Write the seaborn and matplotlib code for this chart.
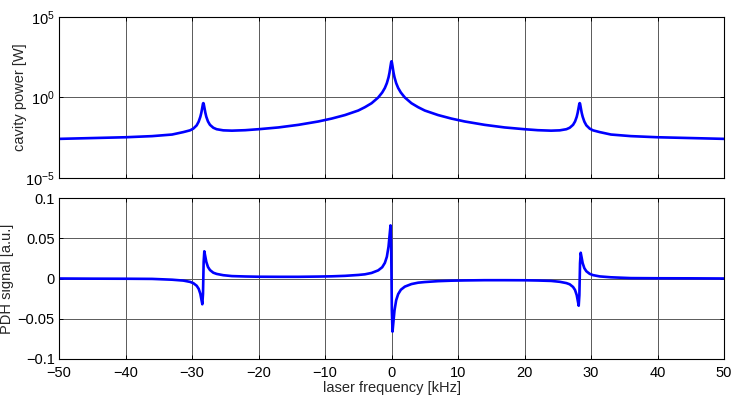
import numpy as np
import pandas as pd
import matplotlib
matplotlib.use("Agg")
import matplotlib.pyplot as plt
import seaborn as sns

# laser detuning [kHz]
freq = [-50, -45, -40, -36, -33, -31.3, -30.3, -29.8, -29.3, -29.0, -28.75, -28.6,
        -28.45, -28.35, -28.3, -28.25, -28.15, -28.0, -27.85, -27.6, -27.3, -26.8,
        -26.3, -25.3, -24, -22, -20, -17, -14, -11, -9, -7, -5, -4, -3, -2, -1.4,
        -1.0, -0.7, -0.45, -0.3, -0.15, -0.05, 0,
        0.05, 0.15, 0.3, 0.45, 0.7, 1.0, 1.4, 2, 3, 4, 5, 7, 9, 11, 14, 17, 20, 22,
        24, 25.3, 26.3, 26.8, 27.3, 27.6, 27.85, 28.0, 28.15, 28.25, 28.3, 28.35,
        28.45, 28.6, 28.75, 29.0, 29.3, 29.8, 30.3, 31.3, 33, 36, 40, 45, 50]

# circulating power [W]
power = [2.69e-3, 3.02e-3, 3.39e-3, 3.98e-3, 5.0e-3, 7.1e-3, 9.1e-3, 1.17e-2, 1.86e-2,
         3.16e-2, 6.3e-2, 0.112, 0.245, 0.417, 0.447, 0.417, 0.251, 0.115, 0.063,
         0.0324, 0.020, 0.0132, 0.0107, 0.0091, 0.0087, 0.0093, 0.0107, 0.0138,
         0.020, 0.0324, 0.049, 0.081, 0.155, 0.25, 0.44, 1.0, 2.04, 3.9, 7.8, 17.8,
         35.5, 89, 158, 178,
         158, 89, 35.5, 17.8, 7.8, 3.9, 2.04, 1.0, 0.44, 0.25, 0.155, 0.081, 0.049,
         0.0324, 0.020, 0.0138, 0.0107, 0.0093, 0.0087, 0.0091, 0.0107, 0.0132,
         0.020, 0.0324, 0.063, 0.115, 0.251, 0.417, 0.447, 0.417, 0.245, 0.112,
         6.3e-2, 3.16e-2, 1.86e-2, 1.17e-2, 9.1e-3, 7.1e-3, 5.0e-3, 3.98e-3,
         3.39e-3, 3.02e-3, 2.69e-3]

# PDH error signal [a.u.]
pdh = [0.0, -0.0002, -0.0003, -0.0005, -0.0015, -0.0026, -0.0042, -0.0058, -0.009,
       -0.0128, -0.019, -0.0256, -0.032, -0.019, 0.0008, 0.0206, 0.0338, 0.0272,
       0.0206, 0.0143, 0.0105, 0.0072, 0.0057, 0.0041, 0.003, 0.0025, 0.0022,
       0.0021, 0.0021, 0.0024, 0.0027, 0.0033, 0.0044, 0.0052, 0.0069, 0.0101,
       0.014, 0.0194, 0.027, 0.0396, 0.0528, 0.066, 0.0396, 0.0,
       -0.0396, -0.066, -0.0528, -0.0396, -0.027, -0.0194, -0.014, -0.0101,
       -0.0069, -0.0052, -0.0044, -0.0033, -0.0027, -0.0024, -0.0021, -0.0021,
       -0.0022, -0.0025, -0.003, -0.0041, -0.0057, -0.0072, -0.0105, -0.0143,
       -0.0206, -0.0272, -0.0338, -0.0206, -0.0008, 0.019, 0.032, 0.0256, 0.019,
       0.0128, 0.009, 0.0058, 0.0042, 0.0026, 0.0015, 0.0005, 0.0003, 0.0002, 0.0]

xticks = [-50, -40, -30, -20, -10, 0, 10, 20, 30, 40, 50]
pdh_ticks = [-0.1, -0.05, 0, 0.05, 0.1]
pdh_labels = ["\u22120.1", "\u22120.05", "0", "0.05", "0.1"]

df = pd.DataFrame({"freq": freq, "power": power, "pdh": pdh})

sns.set_style("ticks")
plt.rcParams["font.family"] = ["Liberation Sans", "DejaVu Sans"]
plt.rcParams["font.size"] = 10.5
plt.rcParams["xtick.direction"] = "in"
plt.rcParams["ytick.direction"] = "in"

fig = plt.figure(figsize=(7.36, 3.98), dpi=100)
ax1 = fig.add_axes([0.0802, 0.5528, 0.9035, 0.4045])
ax2 = fig.add_axes([0.0802, 0.0980, 0.9035, 0.4045])

sns.lineplot(data=df, x="freq", y="power", ax=ax1, color="blue", lw=1.9,
             estimator=None, sort=False)
ax1.set_yscale("log")
ax1.set_ylim(1e-5, 1e5)
ax1.set_yticks([1e-5, 1, 1e5])
ax1.minorticks_off()
ax1.set_xlim(-50, 50)
ax1.set_xticks(xticks)
ax1.set_xticklabels([])
ax1.set_xlabel("")
ax1.set_ylabel("cavity power [W]", labelpad=-1)

sns.lineplot(data=df, x="freq", y="pdh", ax=ax2, color="blue", lw=1.9,
             estimator=None, sort=False)
ax2.set_xlim(-50, 50)
ax2.set_ylim(-0.1, 0.1)
ax2.set_xticks(xticks)
ax2.set_yticks(pdh_ticks)
ax2.set_yticklabels(pdh_labels)
ax2.set_xlabel("laser frequency [kHz]", labelpad=1)
ax2.set_ylabel("PDH signal [a.u.]", labelpad=3)

for ax in (ax1, ax2):
    ax.grid(True, color="0.35", lw=0.7)
    ax.tick_params(top=True, right=True, length=3, width=0.7, colors="black",
                   labelsize=10.5)
    ax.tick_params(axis="x", pad=5)
    ax.tick_params(axis="y", pad=3)
    for s in ax.spines.values():
        s.set_visible(True)
        s.set_color("black")
        s.set_linewidth(0.8)
    ax.set_axisbelow(True)

fig.savefig("out.png", dpi=100)
